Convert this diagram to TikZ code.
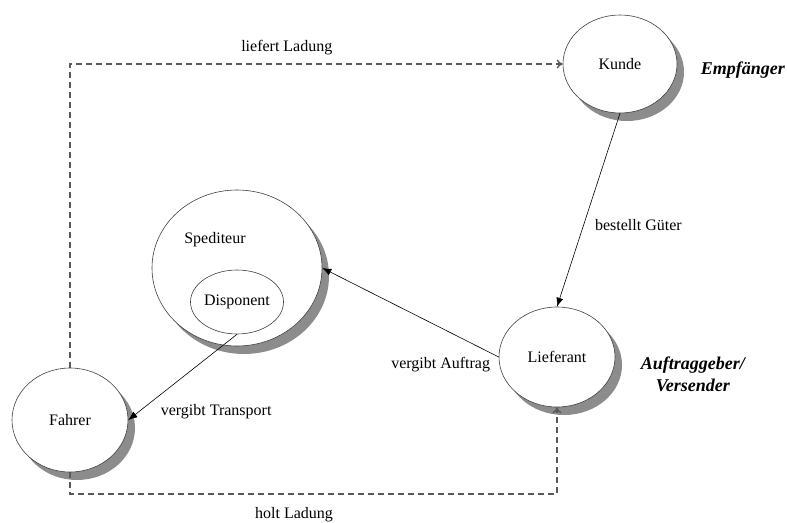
\documentclass[tikz,border=0pt]{standalone}
\usepackage{fontspec}
\setmainfont{Liberation Serif}
\usetikzlibrary{arrows.meta,shapes.geometric,shadows,positioning}

\begin{document}
\begin{tikzpicture}[x=1pt, y=-1pt, font=\fontsize{16}{19}\selectfont]
\tikzstyle{main}=[ellipse, draw=black!75, line width=0.6pt, fill=white, inner sep=0pt]
\tikzstyle{shad}=[main, drop shadow={shadow xshift=7pt, shadow yshift=-8pt, fill=black!45, opacity=1}]
\tikzstyle{connect}=[-{Latex[length=9pt, width=7pt]}, line width=0.6pt]
\tikzstyle{flow}=[-{To[length=6pt, width=9pt]}, line width=1.5pt, dash pattern=on 6pt off 4pt, draw=black!65]
\tikzstyle{role}=[font=\fontsize{18}{22}\selectfont\bfseries\itshape]

  \useasboundingbox (0,0) rectangle (787,522);

  \node[shad, minimum width=114pt, minimum height=98pt]  (kunde)  at (620,64)  {Kunde};
  \node[shad, minimum width=170pt, minimum height=156pt] (sped)   at (237,268) {};
  \node[main, minimum width=76pt, minimum height=64pt]   (dispo)  at (237,302) {Disponent};
  \node (spedtext) at (215,240) {Spediteur};
  \node[shad, minimum width=116pt, minimum height=100pt] (liefer) at (557,357) {Lieferant};
  \node[shad, minimum width=116pt, minimum height=104pt] (fahrer) at (70,420)  {Fahrer};

  \node[role] (empf)  [right=20pt of kunde, yshift=-6pt] {Empfänger};
  \node[role, align=center] (auftr) [right=22pt of liefer, yshift=-17pt] {Auftraggeber/\\Versender};

  \coordinate (holtcorner) at (70,494);

  % Auftraege
  \path (kunde.south) edge [connect] node [pos=0.58, right=8pt] {bestellt Güter} (liefer.north);
  \path (liefer.west) edge [connect] node [at start, left=5pt, yshift=-8pt] {vergibt Auftrag} (sped.east);
  \path (dispo.south) edge [connect] node [pos=0.9, right=18pt] {vergibt Transport} (fahrer.east);

  % Ladung
  \draw[flow] (fahrer.north) |- node [pos=0.72, above=5pt] {liefert Ladung} (kunde.west);
  \draw[flow] (fahrer.south) -- (holtcorner) -| node [pos=0.23, below=9pt] {holt Ladung} (liefer.south);

\end{tikzpicture}
\end{document}
